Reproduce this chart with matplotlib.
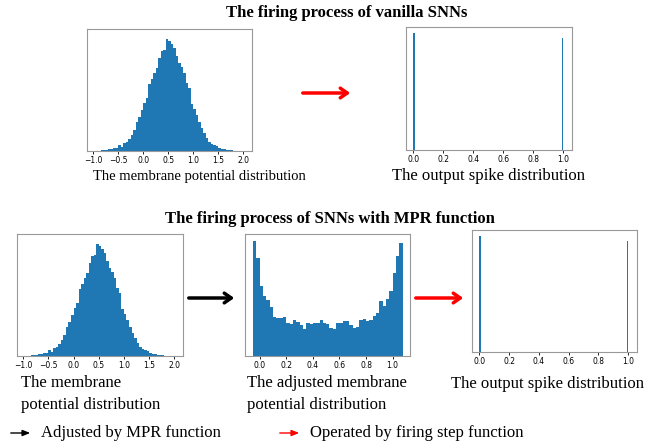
import matplotlib.pyplot as plt
import numpy as np

W, H = 652, 444

# membrane potential histogram, bins of 0.05 starting at -0.95
mem_start = -0.95
mem_width = 0.05
mem_counts = [1, 1, 2, 3, 4, 6, 7, 9, 10, 17, 12, 24, 28, 35, 48, 62, 88, 102, 122,
              144, 160, 200, 215, 235, 250, 278, 300, 302, 335, 330, 320, 310, 285, 265,
              252, 235, 205, 188, 140,
              126, 108, 86, 68, 54, 40, 28, 22, 17, 14, 10, 7, 5, 4, 3, 2, 1, 1]

# adjusted membrane potential histogram, bins of 0.025 starting at -0.05
adj_start = -0.05
adj_width = 0.025
adj_counts = [345, 295, 210, 180, 167, 147, 118, 114, 115, 118, 100, 95, 108, 102, 94,
              80, 100, 95, 98, 98, 108, 98, 95, 85, 80, 100, 100, 104, 104, 94, 85, 86,
              108, 110, 105, 108, 120, 128, 165, 150, 170, 195, 250, 300, 338]

# output spikes (0 / 1)
spike_pos = [0.0, 0.99]
spike_width = 0.01
spike_counts = [5000, 4780]

mem_ticks = [-1.0, -0.5, 0.0, 0.5, 1.0, 1.5, 2.0]
unit_ticks = [0.0, 0.2, 0.4, 0.6, 0.8, 1.0]

serif = 'Liberation Serif'
blue = '#1f77b4'

fig = plt.figure(figsize=(W / 100, H / 100), dpi=100)


def px_axes(x0, y0, x1, y1):
    return fig.add_axes([x0 / W, 1 - y1 / H, (x1 - x0) / W, (y1 - y0) / H])


def style(ax, ticks):
    ax.set_xticks(ticks)
    ax.set_yticks([])
    ax.tick_params(axis='x', labelsize=5.5, length=2, width=0.6, pad=1.5)
    for s in ax.spines.values():
        s.set_color('#999999')
        s.set_linewidth(0.8)


def mem_hist(ax):
    lefts = mem_start + mem_width * np.arange(len(mem_counts))
    ax.bar(lefts, mem_counts, width=mem_width, align='edge', color=blue, linewidth=0)
    ax.set_xlim(-1.12, 2.17)
    ax.set_ylim(0, 366)
    style(ax, mem_ticks)


def spike_hist(ax):
    ax.bar(spike_pos, spike_counts, width=spike_width, align='edge', color=blue, linewidth=0)
    ax.set_xlim(-0.05, 1.06)
    style(ax, unit_ticks)


# top row
mem_hist(px_axes(87, 29, 252, 151))
spike_hist(px_axes(406, 27, 572, 150))

# bottom row
mem_hist(px_axes(17, 234, 183, 356))

ax = px_axes(245, 234, 410, 356)
lefts = adj_start + adj_width * np.arange(len(adj_counts))
ax.bar(lefts, adj_counts, width=adj_width, align='edge', color=blue, linewidth=0)
ax.set_xlim(-0.11, 1.13)
ax.set_ylim(0, 366)
style(ax, unit_ticks)

spike_hist(px_axes(472, 230, 637, 352))

# overlay for texts and arrows, in pixel coordinates
ov = fig.add_axes([0, 0, 1, 1], zorder=-1)
ov.set_xlim(0, W)
ov.set_ylim(H, 0)
ov.axis('off')

ov.text(347, 13, 'The firing process of vanilla SNNs', ha='center', va='center',
        fontsize=12, fontweight='bold', family=serif)
ov.text(330, 219, 'The firing process of SNNs with MPR function', ha='center', va='center',
        fontsize=12, fontweight='bold', family=serif)

lab = dict(family=serif, va='center')
ov.text(199, 176, 'The membrane potential distribution', ha='center', fontsize=10.5, **lab)
ov.text(392, 176, 'The output spike distribution', ha='left', fontsize=12, **lab)
ov.text(21, 383, 'The membrane', ha='left', fontsize=12, **lab)
ov.text(21, 405, 'potential distribution', ha='left', fontsize=12, **lab)
ov.text(247, 383, 'The adjusted membrane', ha='left', fontsize=12, **lab)
ov.text(247, 405, 'potential distribution', ha='left', fontsize=12, **lab)
ov.text(451, 384, 'The output spike distribution', ha='left', fontsize=12, **lab)
ov.text(41, 433, 'Adjusted by MPR function', ha='left', fontsize=12, **lab)
ov.text(310, 433, 'Operated by firing step function', ha='left', fontsize=12, **lab)

big = dict(arrowstyle='->,head_length=0.5,head_width=0.35', lw=2.5)
ov.annotate('', xy=(353, 93), xytext=(300, 93), arrowprops=dict(color='red', **big))
ov.annotate('', xy=(237, 298), xytext=(186, 298), arrowprops=dict(color='black', **big))
ov.annotate('', xy=(466, 298), xytext=(413, 298), arrowprops=dict(color='red', **big))

small = dict(arrowstyle='-|>,head_length=0.45,head_width=0.18', lw=1)
ov.annotate('', xy=(33, 433), xytext=(8, 433), arrowprops=dict(color='black', **small))
ov.annotate('', xy=(302, 433), xytext=(277, 433), arrowprops=dict(color='red', **small))

fig.savefig('out.png', dpi=100)
